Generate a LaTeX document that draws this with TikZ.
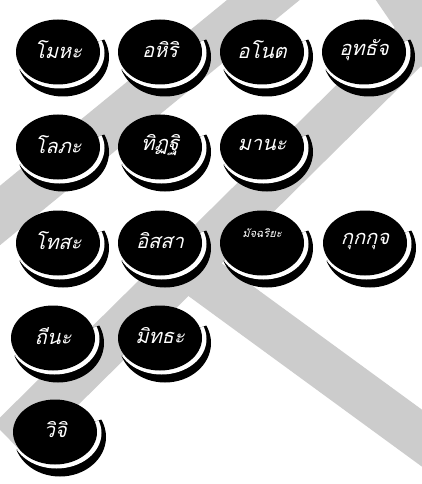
\documentclass[tikz,border=0pt]{standalone}
\usepackage{fontspec}
\newfontfamily\thaifont[Script=Thai,FakeSlant=0.25]{Loma}
\usepackage{tikz}
\usetikzlibrary{positioning}

\definecolor{bandgrey}{RGB}{204,204,204}
\tikzset{
  band/.style={line width=46pt, bandgrey},
  word/.style={text=white, inner sep=0pt},
}

\begin{document}
\begin{tikzpicture}[x=1pt, y=-1pt]
  \useasboundingbox (0,0) rectangle (422,484);
  \fill[white] (0,0) rectangle (422,484);

  % Bands
  \begin{scope}
    \clip (0,0) rectangle (422,484);
    \draw[band] (300,-30) -- (-30,240);
    \draw[band] (390,-20) -- (455,75);
    \draw[band] (440,15) -- (10,440);
    \draw[band] (185,265) -- (445,455);
  \end{scope}

  % Badges
  \foreach \n/\cx/\cy/\s/\ty/\word in {moha/58/52/20/50/โมหะ, ahiri/160/52/20/50/อหิริ,
      anot/262/52/20/50/อโนต, uddhac/364/52/20/50/อุทธัจ,
      lobha/58/147/20/145/โลภะ, ditthi/160/147/20/145/ทิฏฐิ, mana/262/147/20/145/มานะ,
      dosa/58/243/20/241/โทสะ, issa/160/243/20/241/อิสสา,
      macchariya/262/243/11/233/มัจฉริยะ, kukkuc/365/243/20/241/กุกกุจ,
      thina/53/338/20/336/ถีนะ, middha/160/338/20/336/มิทธะ,
      vici/55/432/20/430/วิจิ} {
    \begin{scope}
      \clip (\cx-70,\cy+29) -- (\cx+70,\cy-21) -- (\cx+70,\cy+60) -- (\cx-70,\cy+60) -- cycle;
      \fill (\cx+5,\cy+5) ellipse [x radius=46, y radius=39.5];
      \fill[white] (\cx+1.5,\cy+1) ellipse [x radius=45, y radius=35.5];
    \end{scope}
    \fill (\cx,\cy) ellipse [x radius=42, y radius=32.5];
    \node[word, font=\thaifont\fontsize{\s}{\s}\selectfont] (\n) at (\cx,\ty) {\word};
  }
\end{tikzpicture}
\end{document}
